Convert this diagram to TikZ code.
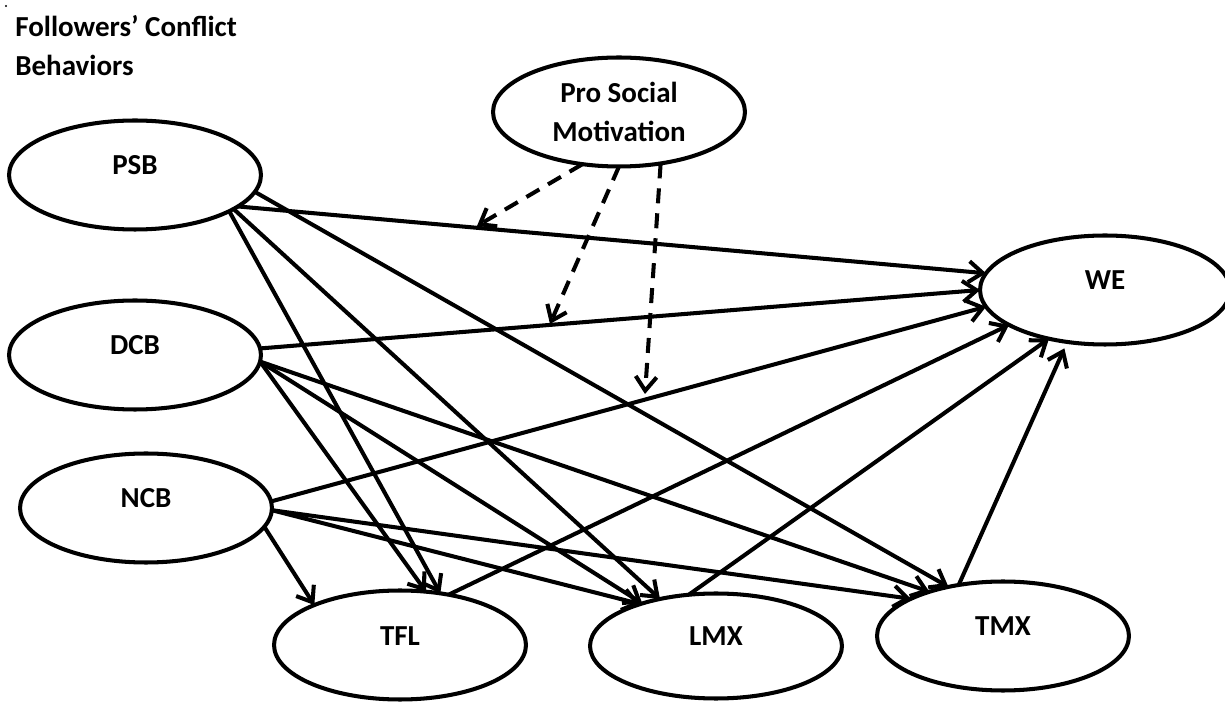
\documentclass[tikz,border=0pt]{standalone}
\usepackage{fontspec}
\setmainfont{Carlito}
\usetikzlibrary{arrows.meta,shapes.geometric}
\begin{document}
\begin{tikzpicture}[x=0.02cm,y=-0.02cm,
  ell/.style={draw, line width=2.3pt, ellipse, minimum width=5.04cm, minimum height=2.18cm,
    inner sep=0pt, outer sep=0pt, font=\fontsize{16.5}{19}\selectfont\bfseries,
    text height=3.6mm, text depth=3.6mm},
  title/.style={font=\fontsize{16.5}{19}\selectfont\bfseries, inner sep=0pt},
  arr/.style={line width=2.3pt, -{Straight Barb[length=2.8mm,width=4.2mm]}},
  darr/.style={arr, dash pattern=on 3mm off 2mm}]
\useasboundingbox (0,0) rectangle (1225,702);
\fill (6,6) circle (1.2);
\node[title, anchor=base west] (t1) at (15,37) {Followers’ Conflict};
\node[title, anchor=base west] (t2) at (15,76) {Behaviors};
% ellipses
\node[ell] (psb) at (135,175) {PSB};
\node[ell] (dcb) at (135,355) {DCB};
\node[ell] (ncb) at (146,508) {NCB};
\node[ell, minimum width=5.0cm] (we) at (1105,290) {WE};
\node[ell] (tfl) at (400,645) {TFL};
\node[ell, minimum height=2.1cm] (lmx) at (716,646) {LMX};
\node[ell] (tmx) at (1003,636) {TMX};
\node[ell, text height=, text depth=, align=center, font=\fontsize{16.5}{22.5}\selectfont\bfseries] (psm) at (619,112) {Pro Social\\Motivation};
% moderation targets
\coordinate (m1) at (477,226);
\coordinate (m2) at (550,324);
\coordinate (m3) at (645,394);
% PSB
\draw[arr] (psb.-17) -- (we.172);
\draw[arr] (psb.-8) -- (tmx.138);
\draw[arr] (psb.-21) -- (tfl.52);
\draw[arr] (psb.-19) -- (lmx.140);
% DCB
\draw[arr] (dcb.3) -- (we.180);
\draw[arr] (dcb.-3) -- (tfl.64);
\draw[arr] (dcb.-3) -- (lmx.150);
\draw[arr] (dcb.-3) -- (tmx.149);
% NCB
\draw[arr] (ncb.3.5) -- (we.-172);
\draw[arr] (ncb.-9) -- (tfl.155);
\draw[arr] (ncb.-1) -- (lmx.151);
\draw[arr] (ncb.-1) -- (tmx.158);
% mediators to WE
\draw[arr] (tfl.46) -- (we.-160);
\draw[arr] (lmx.118) -- (we.-139);
\draw[arr, shorten >=4pt] (tmx.131) -- (we.-126);
% moderation (dashed)
\draw[darr] (psm.-125) -- (m1);
\draw[darr] (psm.-90) -- (m2);
\draw[darr] (psm.-51) -- (m3);
\end{tikzpicture}
\end{document}
